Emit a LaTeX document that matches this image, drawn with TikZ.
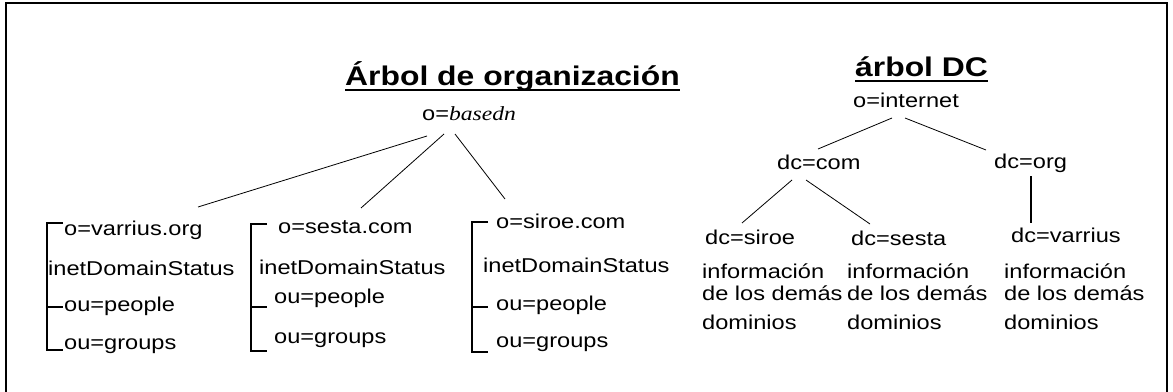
\documentclass[tikz,border=0pt]{standalone}
\usepackage{fontspec}
\setmainfont{Liberation Sans}[FakeStretch=1.18]
\newfontfamily\basedfont{Liberation Serif}[FakeStretch=1.18]
\usetikzlibrary{calc}
\usetikzlibrary{graphs}
\usetikzlibrary{positioning}

\tikzset{
    entry/.style={anchor=base west, inner sep=0pt, font=\fontsize{20}{22}\selectfont},
    heading/.style={anchor=base west, inner sep=0pt, font=\fontsize{27}{30}\selectfont\bfseries},
    info/.style={entry, align=left},
}

\begin{document}
\begin{tikzpicture}[x=1pt, y=-1pt, bracket/.style={line width=1.8pt}]
        \useasboundingbox (0,0) rectangle (1173,391);
        % frame, its bottom edge lies below the page
        \draw[line width=2.2pt] (6,400) -- (6,3) -- (1167,3) -- (1167,400);
        
        % organisation tree
        \node[heading] (org title) at (345,85) {Árbol de organización};
        \draw[line width=1.8pt] ([yshift=-5pt]org title.base west) -- ([yshift=-5pt]org title.base east);
        
        \node[entry] (basedn) at (422,120) {o={\basedfont\itshape basedn}};
        \coordinate (basedn port a) at (427,136);
        \coordinate (basedn port b) at (444,134);
        \coordinate (basedn port c) at (455,134);
        
        \node[entry] (varrius) at (64,235) {o=varrius.org};
        \node[entry] (varrius status) at (48,275) {inetDomainStatus};
        \node[entry] (varrius people) at (64,311) {ou=people};
        \node[entry] (varrius groups) at (64,349) {ou=groups};
        \coordinate (varrius port) at (198,207);
        \draw[bracket] (63,223) -- (47,223) -- (47,350) -- (63,350) (47,307) -- (63,307);
        
        \node[entry] (sesta) at (278,233) {o=sesta.com};
        \node[entry] (sesta status) at (259,274) {inetDomainStatus};
        \node[entry] (sesta people) at (274,303) {ou=people};
        \node[entry] (sesta groups) at (274,343) {ou=groups};
        \coordinate (sesta port) at (361,208);
        \draw[bracket] (267,224) -- (251,224) -- (251,351) -- (267,351) (251,307) -- (267,307);
        
        \node[entry] (siroe) at (496,228) {o=siroe.com};
        \node[entry] (siroe status) at (483,272) {inetDomainStatus};
        \node[entry] (siroe people) at (496,310) {ou=people};
        \node[entry] (siroe groups) at (496,347) {ou=groups};
        \coordinate (siroe port) at (505,199);
        \draw[line width=1.4pt] (488,222) -- (472,222) -- (472,352) -- (488,352) (472,307) -- (488,307);
        
        % dc tree, info nodes sit on the baseline of their last line
        \node[heading] (dc title) at (855,76) {árbol DC};
        \draw[line width=1.8pt] ([yshift=-5pt]dc title.base west) -- ([yshift=-5pt]dc title.base east);
        
        \node[entry] (internet) at (853,107) {o=internet};
        \coordinate (internet port a) at (892,118);
        \coordinate (internet port b) at (905,118);
        
        \node[entry] (dc com) at (777,169) {dc=com};
        \coordinate (com port) at (818,149);
        \coordinate (com port a) at (792,180);
        \coordinate (com port b) at (806,180);
        
        \node[entry] (dc org) at (994,168) {dc=org};
        \coordinate (org port) at (986,150);
        \coordinate (org port down) at (1031,176);
        
        \node[entry] (dc siroe) at (705,244) {dc=siroe};
        \coordinate (dc siroe port) at (742,223);
        \node[info] (siroe info) at (702,329) {información\\de los demás\\[7pt]dominios};
        
        \node[entry] (dc sesta) at (851,245) {dc=sesta};
        \coordinate (dc sesta port) at (870,224);
        \node[info] (sesta info) at (847,329) {información\\de los demás\\[7pt]dominios};
        
        \node[entry] (dc varrius) at (1011,242) {dc=varrius};
        \coordinate (dc varrius port) at (1031,223);
        \node[info] (varrius info) at (1004,329) {información\\de los demás\\[7pt]dominios};
        
        \graph { [edges={draw, line width=0.8pt}]
            (basedn port a) -- (varrius port),
            (basedn port b) -- (sesta port),
            (basedn port c) -- (siroe port),
            (internet port a) -- (com port),
            (internet port b) -- (org port),
            (com port a) -- (dc siroe port),
            (com port b) -- (dc sesta port),
        };
        \draw[bracket] (org port down) -- (dc varrius port);
    \end{tikzpicture}
\end{document}
